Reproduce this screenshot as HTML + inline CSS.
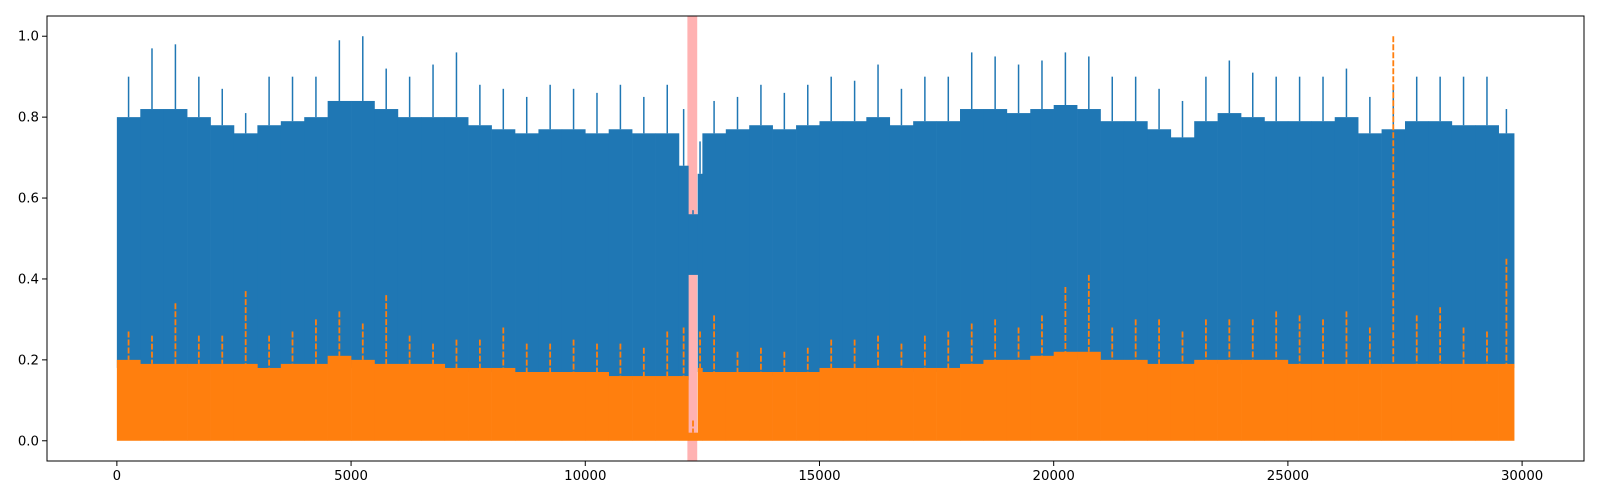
<!DOCTYPE html>
<html><head><meta charset="utf-8"><style>
html,body{margin:0;padding:0;background:#fff;overflow:hidden;width:1600px;height:500px;}
svg{display:block;}
svg text{font-family:"DejaVu Sans","Liberation Sans",sans-serif;font-size:13.3px;fill:#000;}
</style></head><body>
<svg id="chart" width="1600" height="500" xmlns="http://www.w3.org/2000/svg">
<rect x="0" y="0" width="1600" height="500" fill="#fff"/>
<g id="marks"></g>
<rect x="47" y="16" width="1537" height="445" fill="none" stroke="#000" stroke-width="1"/>
<g id="axes"></g>
</svg>
<script>
// bin edges (x units)
const binStart = [0,500,1000,1500,2000,2500,3000,3500,4000,4500,5000,5500,6000,6500,7000,7500,8000,8500,9000,9500,10000,10500,11000,11500,12000,12200,12400,12500,13000,13500,14000,14500,15000,15500,16000,16500,17000,17500,18000,18500,19000,19500,20000,20500,21000,21500,22000,22500,23000,23500,24000,24500,25000,25500,26000,26500,27000,27500,28000,28500,29000,29500];
const binEnd   = [500,1000,1500,2000,2500,3000,3500,4000,4500,5000,5500,6000,6500,7000,7500,8000,8500,9000,9500,10000,10500,11000,11500,12000,12200,12400,12500,13000,13500,14000,14500,15000,15500,16000,16500,17000,17500,18000,18500,19000,19500,20000,20500,21000,21500,22000,22500,23000,23500,24000,24500,25000,25500,26000,26500,27000,27500,28000,28500,29000,29500,29830];
const blueTop  = [0.80,0.82,0.82,0.80,0.78,0.76,0.78,0.79,0.80,0.84,0.84,0.82,0.80,0.80,0.80,0.78,0.77,0.76,0.77,0.77,0.76,0.77,0.76,0.76,0.68,0.56,0.66,0.76,0.77,0.78,0.77,0.78,0.79,0.79,0.80,0.78,0.79,0.79,0.82,0.82,0.81,0.82,0.83,0.82,0.79,0.79,0.77,0.75,0.79,0.81,0.80,0.79,0.79,0.79,0.80,0.76,0.77,0.79,0.79,0.78,0.78,0.76];
const bluePeak = [0.90,0.97,0.98,0.90,0.87,0.81,0.90,0.90,0.90,0.99,1.00,0.92,0.90,0.93,0.96,0.88,0.87,0.85,0.88,0.87,0.86,0.88,0.85,0.88,0.82,0.57,0.74,0.84,0.85,0.88,0.86,0.88,0.90,0.89,0.93,0.87,0.90,0.90,0.96,0.95,0.93,0.94,0.96,0.95,0.90,0.90,0.87,0.84,0.90,0.94,0.91,0.90,0.90,0.90,0.92,0.85,0.88,0.90,0.90,0.90,0.90,0.82];
const blueLow  = [0.18,0.18,0.18,0.18,0.18,0.18,0.17,0.18,0.18,0.19,0.18,0.18,0.18,0.18,0.17,0.17,0.17,0.16,0.16,0.16,0.16,0.15,0.15,0.15,0.15,0.41,0.17,0.16,0.16,0.16,0.16,0.16,0.17,0.17,0.17,0.17,0.17,0.17,0.18,0.19,0.19,0.20,0.20,0.20,0.19,0.19,0.18,0.18,0.19,0.19,0.19,0.19,0.18,0.18,0.18,0.18,0.18,0.18,0.18,0.18,0.18,0.18];
const orangeTop  = [0.20,0.19,0.19,0.19,0.19,0.19,0.18,0.19,0.19,0.21,0.20,0.19,0.19,0.19,0.18,0.18,0.18,0.17,0.17,0.17,0.17,0.16,0.16,0.16,0.16,0.02,0.18,0.17,0.17,0.17,0.17,0.17,0.18,0.18,0.18,0.18,0.18,0.18,0.19,0.20,0.20,0.21,0.22,0.22,0.20,0.20,0.19,0.19,0.20,0.20,0.20,0.20,0.19,0.19,0.19,0.19,0.19,0.19,0.19,0.19,0.19,0.19];
const orangePeak = [0.27,0.26,0.34,0.26,0.26,0.37,0.26,0.27,0.30,0.32,0.29,0.36,0.26,0.24,0.25,0.25,0.28,0.24,0.24,0.25,0.24,0.24,0.23,0.27,0.28,0.05,0.27,0.31,0.22,0.23,0.22,0.23,0.25,0.25,0.26,0.24,0.26,0.27,0.29,0.30,0.28,0.31,0.38,0.41,0.28,0.30,0.30,0.27,0.30,0.30,0.30,0.32,0.31,0.30,0.32,0.28,1.00,0.31,0.33,0.28,0.27,0.45];
const xTicks = [0,5000,10000,15000,20000,25000,30000];
const yTicks = [0.0,0.2,0.4,0.6,0.8,1.0];
const yTickLabels = ["0.0","0.2","0.4","0.6","0.8","1.0"];
const spanRange = [12180,12390];

const NS="http://www.w3.org/2000/svg";
const X0=-1491.5, X1=31321.5, Y0=-0.05, Y1=1.05;
const PL=47, PR=1584, PT=16, PB=461;
function xs(v){return PL+(v-X0)/(X1-X0)*(PR-PL);}
function ys(v){return PB-(v-Y0)/(Y1-Y0)*(PB-PT);}
function mk(tag,attrs,parent){const e=document.createElementNS(NS,tag);for(const k in attrs)e.setAttribute(k,attrs[k]);parent.appendChild(e);return e;}
const marks=document.getElementById('marks');
const axes=document.getElementById('axes');

const sp=mk('rect',{x:xs(spanRange[0]),y:PT,width:xs(spanRange[1])-xs(spanRange[0]),height:PB-PT,fill:'#ffb2b2'},marks);



const gB=mk('g',{},marks);


for(let i=0;i<binStart.length;i++){
  const x0=xs(binStart[i]), x1=xs(binEnd[i]);
  const r=mk('rect',{x:x0,y:ys(blueTop[i]),width:x1-x0+0.3,height:ys(blueLow[i])-ys(blueTop[i]),fill:'#1f77b4'},gB);
  
  
  const cx=(x0+x1)/2;
  const l=mk('line',{x1:cx,x2:cx,y1:ys(bluePeak[i]),y2:ys(blueTop[i]),stroke:'#1f77b4','stroke-width':1.5},gB);
  
  
}
const gO=mk('g',{},marks);


for(let i=0;i<binStart.length;i++){
  const x0=xs(binStart[i]), x1=xs(binEnd[i]);
  const r=mk('rect',{x:x0,y:ys(orangeTop[i]),width:x1-x0+0.3,height:ys(0)-ys(orangeTop[i]),fill:'#ff7f0e'},gO);
  
  
  const cx=(x0+x1)/2;
  const l=mk('line',{x1:cx,x2:cx,y1:ys(orangePeak[i]),y2:ys(orangeTop[i]),stroke:'#ff7f0e','stroke-width':1.8,'stroke-dasharray':'6,2'},gO);
  
  
}

xTicks.forEach(v=>{
  const x=xs(v);
  mk('line',{x1:x,x2:x,y1:PB,y2:PB+5,stroke:'#000'},axes);
  const t=mk('text',{x:x,y:PB+19,'text-anchor':'middle'},axes);
  t.textContent=String(v);
  
  
});
yTicks.forEach((v,i)=>{
  const y=ys(v);
  mk('line',{x1:PL-5,x2:PL,y1:y,y2:y,stroke:'#000'},axes);
  const t=mk('text',{x:PL-8,y:y+4.5,'text-anchor':'end'},axes);
  t.textContent=yTickLabels[i];
  
  
});
</script>
</body></html>
